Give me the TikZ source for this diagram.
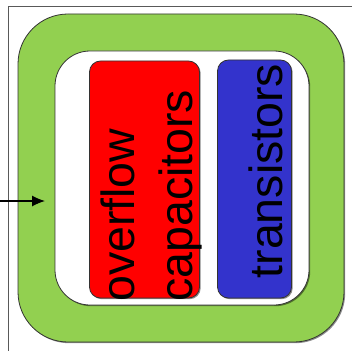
\documentclass[tikz,border=0pt]{standalone}
\usepackage{fontspec}
\setmainfont{Liberation Sans}
\usetikzlibrary{arrows.meta,shadows}
\definecolor{lgreen}{RGB}{146,208,80}
\definecolor{tblue}{RGB}{51,51,204}
\tikzset{
  box/.style={draw=black!80, line width=0.8pt, inner sep=0pt,
    drop shadow={shadow xshift=1.2pt, shadow yshift=-1.2pt, opacity=0.45, fill=black}},
  vlabel/.style={rotate=90, inner sep=0pt, font=\fontsize{46.5}{56}\selectfont, text=black}
}
\begin{document}
\begin{tikzpicture}[x=1pt,y=-1pt]
\useasboundingbox (0,0) rectangle (352,350);
% frame
\draw[black!65, line width=0.9pt] (8,380) -- (8,6) -- (380,6);
% outer green
\node[box, fill=lgreen, rounded corners=50pt, minimum width=326pt, minimum height=328pt] (outer) at (181,178) {};
% inner white
\node[box, fill=white, rounded corners=35pt, minimum width=254pt, minimum height=254pt] (inner) at (182,178) {};
% red box
\node[box, fill=red, rounded corners=11pt, minimum width=110pt, minimum height=237pt] (redbox) at (144.5,179.5) {};
% blue box
\node[box, fill=tblue, rounded corners=11pt, minimum width=74pt, minimum height=238pt] (bluebox) at (254.5,179) {};
% texts
\node[vlabel, anchor=base west] (t1) at (134,302) {overflow};
\node[vlabel, anchor=base west] (t2) at (192,302) {capacitors};
\node[vlabel, anchor=base west] (t3) at (282,278.5) {transistors};
% arrow
\coordinate (src) at (0,201);
\coordinate (dst) at (45,201);
\draw[line width=1.1pt, -{Latex[length=13pt,width=11pt]}] (src) -- (dst);
\end{tikzpicture}
\end{document}
